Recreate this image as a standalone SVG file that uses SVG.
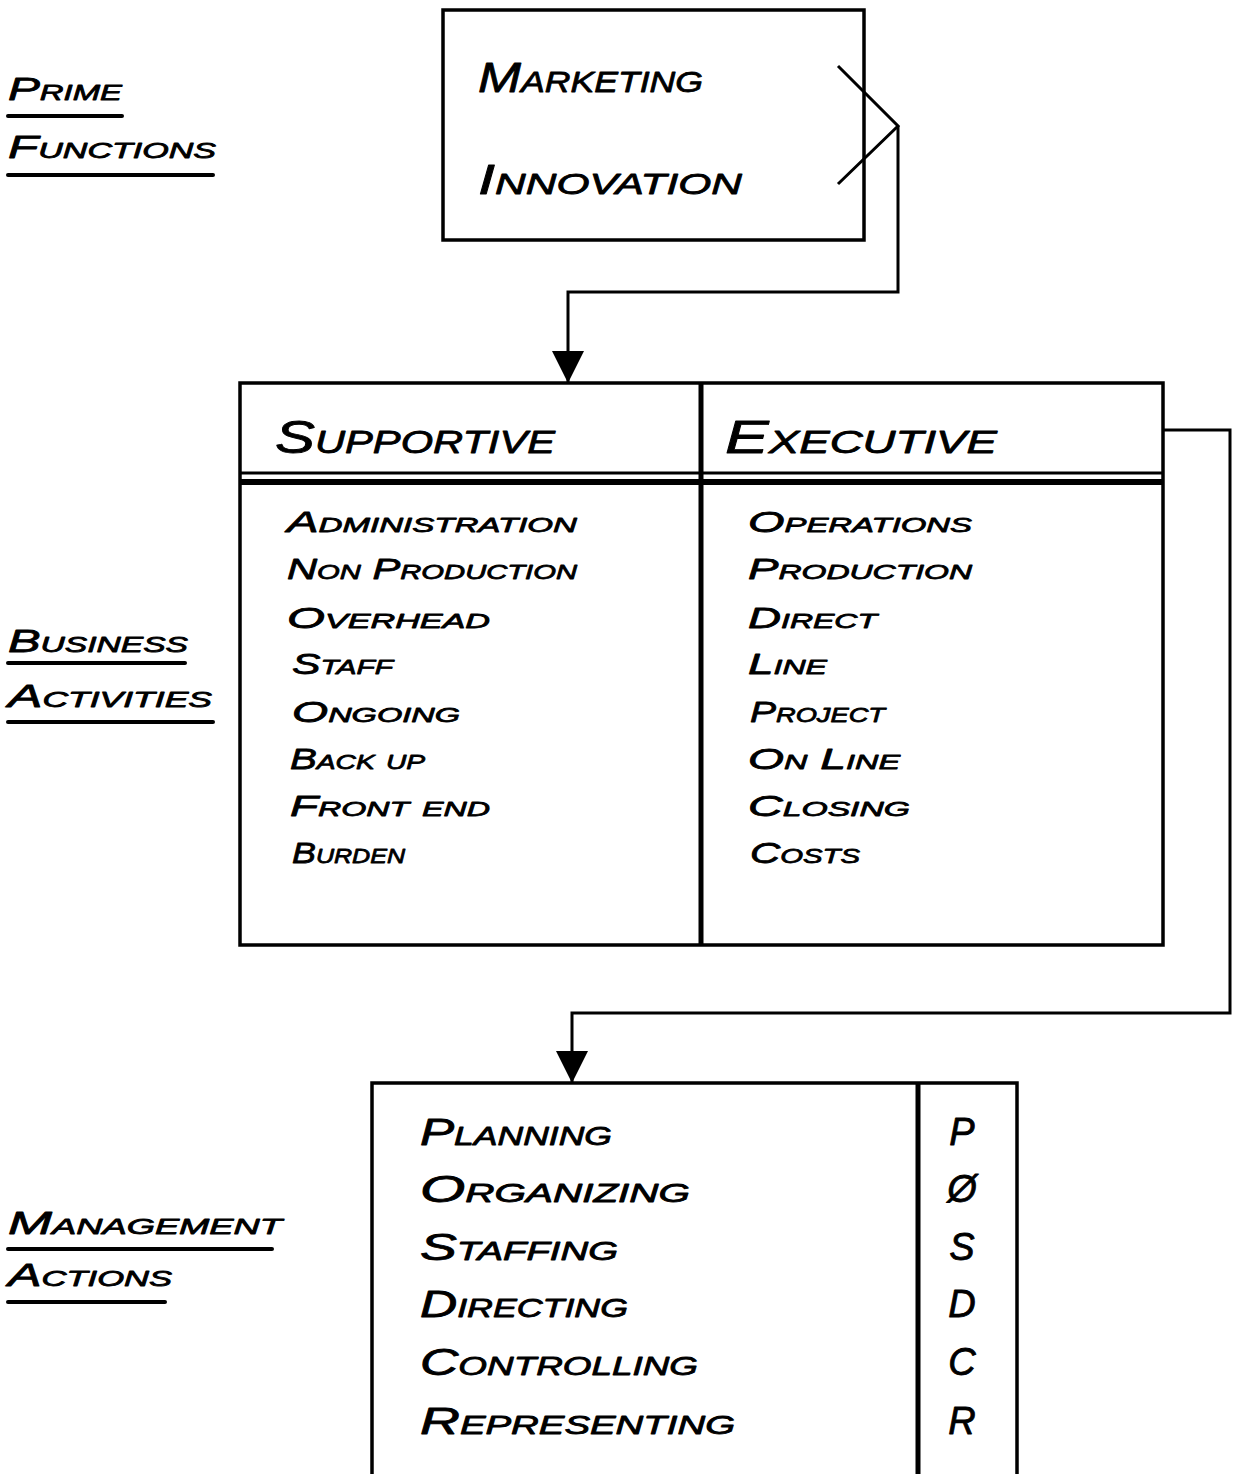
<svg xmlns="http://www.w3.org/2000/svg" width="1241" height="1474" viewBox="0 0 1241 1474">
  <defs>
    <marker id="arrow" viewBox="0 0 32 32" markerWidth="32" markerHeight="32" refX="32" refY="16" orient="auto" markerUnits="userSpaceOnUse">
      <path d="M0,0 L32,16 L0,32 Z" fill="#000"/>
    </marker>
    <style>
      .box { fill: none; stroke: #000; stroke-width: 3.5; }
      .rule { stroke: #000; stroke-width: 4; stroke-linecap: round; }
      .wire { fill: none; stroke: #000; stroke-width: 3; }
      text { font-family: "Liberation Sans", Arial, sans-serif; font-style: italic; font-variant: small-caps; fill: #000; stroke: #000; stroke-width: 0.8; stroke-linejoin: round; }
      .side { font-size: 32px; }
      .prime { font-size: 42px; }
      .head { font-size: 46px; }
      .item { font-size: 30px; }
      .act { font-size: 36px; }
      .code { font-size: 38px; }
    </style>
  </defs>

  <!-- left-hand section labels -->
  <g id="label-prime">
    <text class="side" x="8" y="100" textLength="114" lengthAdjust="spacingAndGlyphs">Prime</text>
    <line class="rule" x1="8" y1="116" x2="122" y2="116"/>
    <text class="side" x="8" y="158" textLength="208" lengthAdjust="spacingAndGlyphs">Functions</text>
    <line class="rule" x1="8" y1="175" x2="213" y2="175"/>
  </g>
  <g id="label-business">
    <text class="side" x="8" y="652" textLength="180" lengthAdjust="spacingAndGlyphs">Business</text>
    <line class="rule" x1="8" y1="663" x2="185" y2="663"/>
    <text class="side" x="8" y="707" textLength="204" lengthAdjust="spacingAndGlyphs">Activities</text>
    <line class="rule" x1="8" y1="722" x2="213" y2="722"/>
  </g>
  <g id="label-management">
    <text class="side" x="8" y="1234" textLength="274" lengthAdjust="spacingAndGlyphs">Management</text>
    <line class="rule" x1="8" y1="1249" x2="272" y2="1249"/>
    <text class="side" x="8" y="1286" textLength="164" lengthAdjust="spacingAndGlyphs">Actions</text>
    <line class="rule" x1="8" y1="1302" x2="165" y2="1302"/>
  </g>

  <!-- prime functions box -->
  <g id="node-prime">
    <rect class="box" x="443" y="10" width="421" height="230"/>
    <text class="prime" x="478" y="92" textLength="225" lengthAdjust="spacingAndGlyphs">Marketing</text>
    <text class="prime" x="478" y="194" textLength="264" lengthAdjust="spacingAndGlyphs">Innovation</text>
    <polyline class="wire" points="838,66 898,126 838,184"/>
  </g>

  <!-- business activities box -->
  <g id="node-business">
    <rect class="box" x="240" y="383" width="923" height="562"/>
    <line stroke="#000" stroke-width="5" x1="701" y1="383" x2="701" y2="945"/>
    <line stroke="#000" stroke-width="3" x1="240" y1="473" x2="1163" y2="473"/>
    <line stroke="#000" stroke-width="6" x1="240" y1="482" x2="1163" y2="482"/>
    <text class="head" x="275" y="453" textLength="280" lengthAdjust="spacingAndGlyphs">Supportive</text>
    <text class="head" x="725" y="453" textLength="272" lengthAdjust="spacingAndGlyphs">Executive</text>

    <text class="item" x="287" y="532" textLength="290" lengthAdjust="spacingAndGlyphs">Administration</text>
    <text class="item" x="287" y="579" textLength="290" lengthAdjust="spacingAndGlyphs">Non Production</text>
    <text class="item" x="287" y="628" textLength="203" lengthAdjust="spacingAndGlyphs">Overhead</text>
    <text class="item" x="292" y="674" textLength="101" lengthAdjust="spacingAndGlyphs">Staff</text>
    <text class="item" x="292" y="722" textLength="168" lengthAdjust="spacingAndGlyphs">Ongoing</text>
    <text class="item" x="290" y="769" textLength="135" lengthAdjust="spacingAndGlyphs">Back up</text>
    <text class="item" x="290" y="816" textLength="200" lengthAdjust="spacingAndGlyphs">Front end</text>
    <text class="item" x="292" y="863" textLength="113" lengthAdjust="spacingAndGlyphs">Burden</text>

    <text class="item" x="748" y="532" textLength="224" lengthAdjust="spacingAndGlyphs">Operations</text>
    <text class="item" x="748" y="579" textLength="224" lengthAdjust="spacingAndGlyphs">Production</text>
    <text class="item" x="748" y="628" textLength="129" lengthAdjust="spacingAndGlyphs">Direct</text>
    <text class="item" x="748" y="674" textLength="79" lengthAdjust="spacingAndGlyphs">Line</text>
    <text class="item" x="750" y="722" textLength="135" lengthAdjust="spacingAndGlyphs">Project</text>
    <text class="item" x="748" y="769" textLength="152" lengthAdjust="spacingAndGlyphs">On Line</text>
    <text class="item" x="748" y="816" textLength="162" lengthAdjust="spacingAndGlyphs">Closing</text>
    <text class="item" x="750" y="863" textLength="110" lengthAdjust="spacingAndGlyphs">Costs</text>
  </g>

  <!-- management actions box -->
  <g id="node-management">
    <polyline class="box" points="372,1474 372,1083 1017,1083 1017,1474"/>
    <line stroke="#000" stroke-width="5" x1="918" y1="1083" x2="918" y2="1474"/>
    <text class="act" x="420" y="1145" textLength="192" lengthAdjust="spacingAndGlyphs">Planning</text>
    <text class="act" x="420" y="1202" textLength="270" lengthAdjust="spacingAndGlyphs">Organizing</text>
    <text class="act" x="420" y="1260" textLength="198" lengthAdjust="spacingAndGlyphs">Staffing</text>
    <text class="act" x="420" y="1317" textLength="208" lengthAdjust="spacingAndGlyphs">Directing</text>
    <text class="act" x="420" y="1375" textLength="278" lengthAdjust="spacingAndGlyphs">Controlling</text>
    <text class="act" x="420" y="1434" textLength="315" lengthAdjust="spacingAndGlyphs">Representing</text>

    <text class="code" x="962" y="1145" text-anchor="middle">P</text>
    <text class="code" x="962" y="1202" text-anchor="middle">Ø</text>
    <text class="code" x="962" y="1260" text-anchor="middle">S</text>
    <text class="code" x="962" y="1317" text-anchor="middle">D</text>
    <text class="code" x="962" y="1375" text-anchor="middle">C</text>
    <text class="code" x="962" y="1434" text-anchor="middle">R</text>
  </g>

  <!-- connectors -->
  <g id="connectors">
    <polyline class="wire" points="898,126 898,292 568,292 568,383" marker-end="url(#arrow)"/>
    <polyline class="wire" points="1163,430 1230,430 1230,1013 572,1013 572,1083" marker-end="url(#arrow)"/>
  </g>
</svg>
